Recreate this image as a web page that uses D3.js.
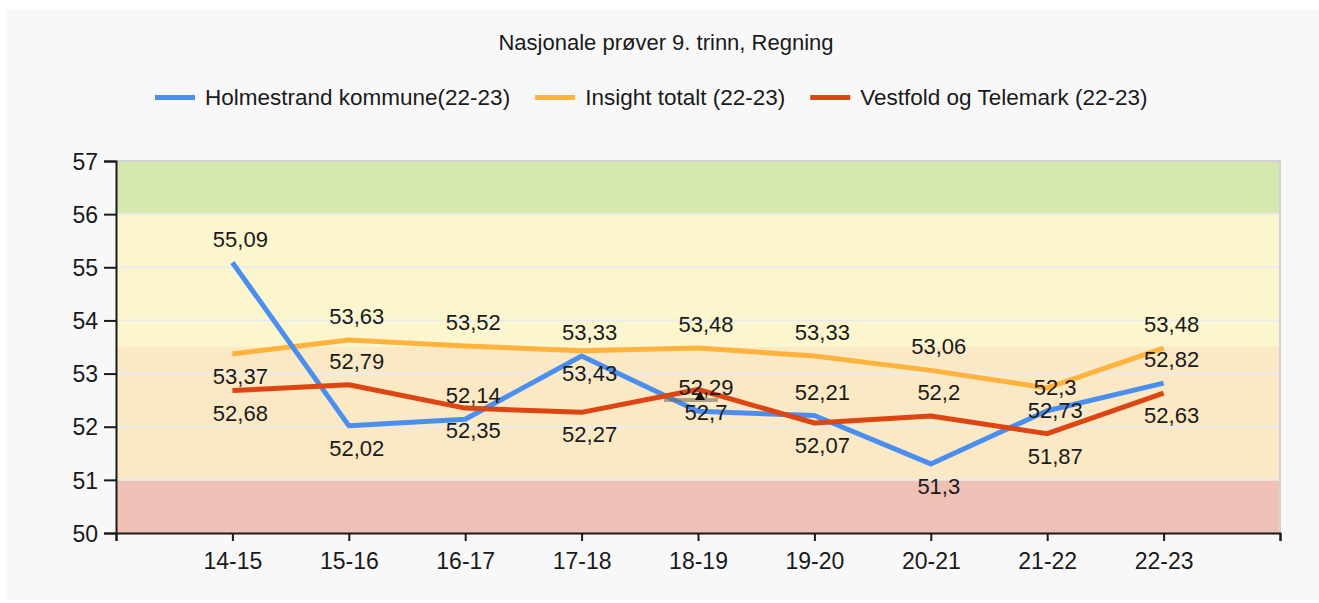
<!DOCTYPE html>
<html>
<head>
<meta charset="utf-8">
<script src="https://cdn.jsdelivr.net/npm/d3@7"></script>
<style>
  html, body { margin: 0; padding: 0; background: #ffffff; }
  svg { display: block; }
  text { font-family: "Liberation Sans", Arial, sans-serif; fill: #1a1a1a; }
</style>
</head>
<body>
<svg id="chart" width="1319" height="603"></svg>
<script>
// ---- data ----
const title = "Nasjonale prøver 9. trinn, Regning";
const categories = ["14-15","15-16","16-17","17-18","18-19","19-20","20-21","21-22","22-23"];
const seriesNames = ["Holmestrand kommune(22-23)", "Insight totalt (22-23)", "Vestfold og Telemark (22-23)"];
const holmestrand = [55.09, 52.02, 52.14, 53.33, 52.29, 52.21, 51.3, 52.3, 52.82];
const insight     = [53.37, 53.63, 53.52, 53.43, 53.48, 53.33, 53.06, 52.73, 53.48];
const vestfold    = [52.68, 52.79, 52.35, 52.27, 52.7, 52.07, 52.2, 51.87, 52.63];
const yTicks = [50, 51, 52, 53, 54, 55, 56, 57];
const bandLimits = [50, 51, 53.5, 56, 57];
const markerCategory = "18-19";
const markerValue = 52.56;

// label placement per series (1 = above point, -1 = below)
const labelSides = [
  [1, -1, 1, 1, 1, 1, -1, 1, 1],
  [-1, 1, 1, -1, 1, 1, 1, -1, 1],
  [-1, 1, -1, -1, -1, -1, 1, -1, -1]
];

const colors = ["#4a8ef0", "#ffb23c", "#dd4512"];
const bandColors = ["#efc0b5", "#fbe8c4", "#fbf6cd", "#d4e8b0"];

// ---- layout ----
const svg = d3.select("#chart");
svg.append("rect").attr("x", 7).attr("y", 10).attr("width", 1312).attr("height", 590).attr("fill", "#f8f8f8");

const pLeft = 116, pRight = 1280, pTop = 161, pBottom = 533;
const x = d3.scaleLinear().domain([0, categories.length + 1]).range([pLeft, pRight]);
const y = d3.scaleLinear().domain([50, 57]).range([pBottom, pTop]);
const xi = i => x(i + 1);

// bands
const bands = d3.range(bandLimits.length - 1).map(i => ({lo: bandLimits[i], hi: bandLimits[i + 1], c: bandColors[i]}));
svg.append("g").selectAll("rect").data(bands).join("rect")
  .attr("x", pLeft).attr("width", pRight - pLeft)
  .attr("y", d => y(d.hi)).attr("height", d => y(d.lo) - y(d.hi))
  .attr("fill", d => d.c);

// gridlines
svg.append("g").selectAll("line").data(yTicks.filter(t => t > 50 && t < 57)).join("line")
  .attr("x1", pLeft).attr("x2", pRight)
  .attr("y1", d => y(d)).attr("y2", d => y(d))
  .attr("stroke", "#ebebeb").attr("stroke-width", 2);

// plot border (top, right)
svg.append("path")
  .attr("d", `M${pLeft},${y(57)}H${pRight}V${pBottom}`)
  .attr("fill", "none").attr("stroke", "#d2d2d2").attr("stroke-width", 2);

// axes
const yAxis = svg.append("g").attr("transform", `translate(${pLeft},0)`)
  .call(d3.axisLeft(y).tickValues(yTicks).tickSize(12).tickPadding(6).tickFormat(d3.format("d")));
yAxis.select(".domain").attr("stroke", "#1a1a1a").attr("stroke-width", 2);
yAxis.selectAll(".tick line").attr("stroke", "#1a1a1a").attr("stroke-width", 2);
yAxis.selectAll("text").style("font-size", "23px").attr("fill", "#1a1a1a").attr("dy", "0.36em");

const xAxis = svg.append("g").attr("transform", `translate(0,${pBottom})`)
  .call(d3.axisBottom(x).tickValues(d3.range(0, categories.length + 2)).tickSize(8).tickPadding(12)
    .tickFormat(i => (i >= 1 && i <= categories.length) ? categories[i - 1] : ""));
xAxis.select(".domain").attr("stroke", "#1a1a1a").attr("stroke-width", 2);
xAxis.selectAll(".tick line").attr("stroke", "#1a1a1a").attr("stroke-width", 2);
xAxis.selectAll("text").style("font-size", "23px").attr("fill", "#1a1a1a");

// lines
const allSeries = [holmestrand, insight, vestfold];
const line = d3.line().x((d, i) => xi(i)).y(d => y(d));
const drawOrder = [1, 0, 2];
drawOrder.forEach(s => {
  svg.append("path").datum(allSeries[s])
    .attr("d", line)
    .attr("fill", "none")
    .attr("stroke", colors[s])
    .attr("stroke-width", 5)
    .attr("stroke-linejoin", "round");
});

// marker (cursor triangle)
const mx = xi(categories.indexOf(markerCategory)), my = y(markerValue);
svg.append("line").attr("x1", mx - 34).attr("x2", mx + 20).attr("y1", my + 3).attr("y2", my + 3)
  .attr("stroke", "#6e6a5a").attr("stroke-width", 4).attr("opacity", 0.55);
svg.append("path").attr("d", d3.symbol(d3.symbolTriangle, 45)())
  .attr("transform", `translate(${mx + 2},${my})`).attr("fill", "#111");

// data labels
const fmt = v => String(v).replace(".", ",");
allSeries.forEach((vals, s) => {
  svg.append("g").selectAll("text").data(vals).join("text")
    .attr("x", (d, i) => xi(i) + 8)
    .attr("y", (d, i) => labelSides[s][i] > 0 ? y(d) - 16 : y(d) + 30)
    .attr("text-anchor", "middle")
    .style("font-size", "22px")
    .text(d => fmt(d));
});

// title
svg.append("text").attr("x", 666).attr("y", 50).attr("text-anchor", "middle")
  .style("font-size", "22px").text(title);

// legend
const legend = svg.append("g");
let lx = 155;
seriesNames.forEach((name, s) => {
  legend.append("rect").attr("x", lx).attr("y", 95).attr("width", 40).attr("height", 5).attr("fill", colors[s]);
  const t = legend.append("text").attr("x", lx + 50).attr("y", 105).style("font-size", "22.5px").text(name);
  const w = t.node().getComputedTextLength();
  lx = lx + 50 + w + 25;
});
</script>
</body>
</html>
